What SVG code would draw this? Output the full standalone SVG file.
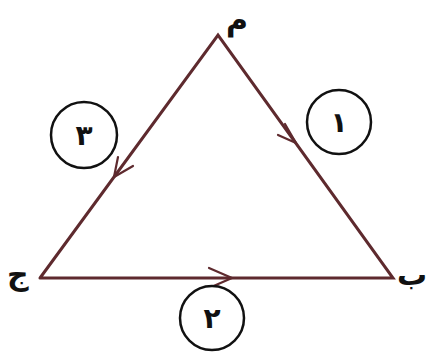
<svg xmlns="http://www.w3.org/2000/svg" width="430" height="362" viewBox="0 0 430 362">
<style>
.edge{fill:none;stroke:#5e2a2e;stroke-width:3;stroke-linecap:round;stroke-linejoin:miter}
.chev{fill:none;stroke:#5e2a2e;stroke-width:2.2;stroke-linecap:round;stroke-linejoin:round}
.ring{fill:#fff;stroke:#111;stroke-width:2.5}
.num{font-family:"DejaVu Sans","Noto Sans",sans-serif;font-weight:bold;font-size:28px;fill:#111;text-anchor:middle}
.lbl{font-family:"DejaVu Sans","Noto Sans",sans-serif;font-weight:bold;font-size:30px;fill:#111}
</style>
<rect width="430" height="362" fill="#fff"/>
<g id="connectors">
<polyline class="edge" points="40,278 218,35 393,278 40,278"/>
<path class="chev" d="M285,124 L296,143 L278,135"/>
<path class="chev" d="M118,157 L114,177 L133,166"/>
<path class="chev" d="M209,268 L232,278 L209,288"/>
</g>
<g id="vertexA"><text class="lbl" x="226" y="30">م</text></g>
<g id="vertexB"><text class="lbl" x="397" y="285">ب</text></g>
<g id="vertexC"><text class="lbl" x="7" y="285">ج</text></g>
<g id="step1"><circle class="ring" cx="339" cy="122" r="32"/><text class="num" x="339" y="132">١</text></g>
<g id="step2"><circle class="ring" cx="212" cy="318" r="32"/><text class="num" x="212" y="328">٢</text></g>
<g id="step3"><circle class="ring" cx="84" cy="135" r="33"/><text class="num" x="84" y="145">٣</text></g>
</svg>
